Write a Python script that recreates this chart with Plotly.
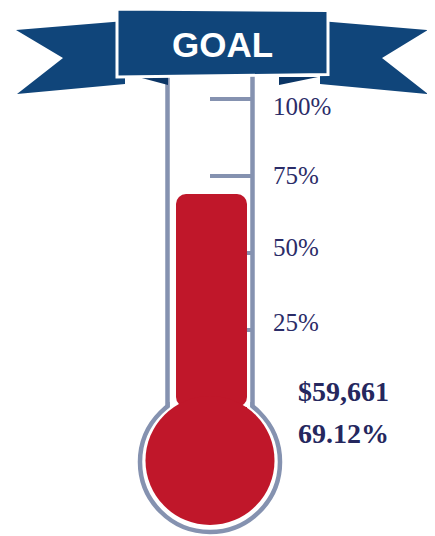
import plotly.graph_objects as go

# ---- data ----
RAISED_AMOUNT = 59661
PERCENT_OF_GOAL = 69.12
TICK_VALUES = [25, 50, 75, 100]
TICK_LABELS = ["25%", "50%", "75%", "100%"]
TITLE = "GOAL"

# ---- styling / geometry (pixel-based layout helpers) ----
PAGE_MARGIN = 8          # default body margin of the html page
W, H = 435 - PAGE_MARGIN, 536 - PAGE_MARGIN
Y0 = 407.0   # window pixel row of 0 %
K = 3.08     # pixels per percent
BLUE = "#10457a"
BLUE_DARK = "#0b3565"
RED = "#c0172a"
GREY = "#8592b0"
NAVY = "#2b2c68"
LABEL_NUDGE = {100: -7.5, 75: 1, 50: 6, 25: 8}


def px(x):
    """window pixel column -> x axis units"""
    return x - PAGE_MARGIN


def py(y):
    """window pixel row -> y axis units (percent)"""
    return (Y0 - y) / K


def path(points):
    return "M " + " L ".join(f"{px(x)},{py(y):.4f}" for x, y in points) + " Z"


shapes = []
# bulb ring (grey outline, white inside)
cx, cy_ring, r_ring = 210, 462, 70
shapes.append(dict(type="circle", xref="x", yref="y", layer="below",
                   x0=px(cx - r_ring), x1=px(cx + r_ring), y0=py(cy_ring + r_ring), y1=py(cy_ring - r_ring),
                   line=dict(color=GREY, width=4.5), fillcolor="white"))
# erase ring arc inside the neck
shapes.append(dict(type="rect", xref="x", yref="y", layer="below",
                   x0=px(169.8), x1=px(250.2), y0=py(414), y1=py(385),
                   line=dict(width=0), fillcolor="white"))
# tube sides
for xs in (167.5, 252.5):
    shapes.append(dict(type="line", xref="x", yref="y", layer="below",
                       x0=px(xs), x1=px(xs), y0=py(407), y1=py(70),
                       line=dict(color=GREY, width=4.5)))
# tick marks
for v in TICK_VALUES:
    shapes.append(dict(type="line", xref="x", yref="y", layer="below",
                       x0=px(210), x1=px(252.5), y0=v, y1=v,
                       line=dict(color=GREY, width=4)))
# red bulb
r_bulb, cy_bulb = 64.5, 460.5
shapes.append(dict(type="circle", xref="x", yref="y", layer="above",
                   x0=px(cx - r_bulb), x1=px(cx + r_bulb), y0=py(cy_bulb + r_bulb), y1=py(cy_bulb - r_bulb),
                   line=dict(width=0), fillcolor=RED))
shapes.append(dict(type="rect", xref="x", yref="y", layer="above",
                   x0=px(176), x1=px(247), y0=py(430), y1=0,
                   line=dict(width=0), fillcolor=RED))

# ribbon tails
shapes.append(dict(type="path", xref="x", yref="y", layer="above",
                   path=path([(16, 30), (125, 21), (125, 84), (17, 94), (63, 58)]),
                   line=dict(width=0), fillcolor=BLUE))
shapes.append(dict(type="path", xref="x", yref="y", layer="above",
                   path=path([(320, 21), (428, 30), (382, 58), (428, 94), (320, 84)]),
                   line=dict(width=0), fillcolor=BLUE))
# folds
shapes.append(dict(type="path", xref="x", yref="y", layer="above",
                   path=path([(138, 77), (168, 77), (168, 85)]),
                   line=dict(width=0), fillcolor=BLUE_DARK))
shapes.append(dict(type="path", xref="x", yref="y", layer="above",
                   path=path([(279, 77), (318, 77), (279, 85)]),
                   line=dict(width=0), fillcolor=BLUE_DARK))
# banner
shapes.append(dict(type="path", xref="x", yref="y", layer="above",
                   path=path([(117, 9), (328, 10.5), (328, 74.5), (117, 77)]),
                   line=dict(color="white", width=3), fillcolor=BLUE))

fig = go.Figure()
fig.add_trace(go.Bar(x=[px(211.5)], y=[PERCENT_OF_GOAL], base=0, width=[71],
                     marker=dict(color=RED, line=dict(width=0)),
                     hoverinfo="skip", showlegend=False))

annotations = []
for v, lab in zip(TICK_VALUES, TICK_LABELS):
    annotations.append(dict(x=px(271), y=v, xref="x", yref="y", text=lab, showarrow=False,
                            xanchor="left", yanchor="middle", yshift=LABEL_NUDGE[v],
                            font=dict(family="Liberation Serif", size=25, color=NAVY)))
annotations.append(dict(x=px(296), y=py(391), xref="x", yref="y", text=f"<b>${RAISED_AMOUNT:,}</b>",
                        showarrow=False, xanchor="left", yanchor="middle",
                        font=dict(family="Liberation Serif", size=28, color="#25275e")))
annotations.append(dict(x=px(296), y=py(433), xref="x", yref="y", text=f"<b>{PERCENT_OF_GOAL:.2f}%</b>",
                        showarrow=False, xanchor="left", yanchor="middle",
                        font=dict(family="Liberation Serif", size=28, color="#25275e")))
annotations.append(dict(x=px(222.5), y=py(44), xref="x", yref="y", text=f"<b>{TITLE}</b>",
                        showarrow=False, xanchor="center", yanchor="middle",
                        font=dict(family="Liberation Sans", size=35, color="white")))

fig.update_layout(
    width=W, height=H, autosize=False,
    margin=dict(l=0, r=0, t=0, b=0, pad=0),
    paper_bgcolor="white", plot_bgcolor="white",
    barcornerradius=10,
    xaxis=dict(range=[0, W], visible=False, fixedrange=True),
    yaxis=dict(range=[py(536), py(PAGE_MARGIN)], visible=False, fixedrange=True),
    shapes=shapes, annotations=annotations, showlegend=False,
)
fig.write_html("out.html", config={"displayModeBar": False})
